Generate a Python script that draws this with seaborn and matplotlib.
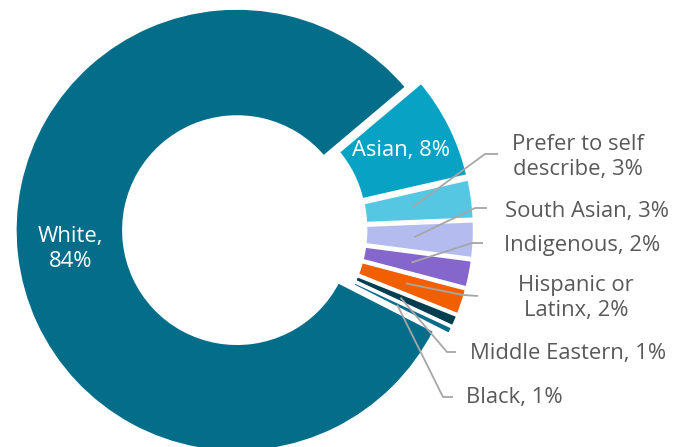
import numpy as np
import matplotlib
matplotlib.use("Agg")
import matplotlib.pyplot as plt
import seaborn as sns

# ---- data ----
categories = ["White", "Asian", "Prefer to self describe", "South Asian",
              "Indigenous", "Hispanic or Latinx", "Middle Eastern", "Black"]
shares = [83.8, 7.8, 3.0, 2.8, 2.1, 2.0, 0.9, 0.6]
label_texts = ["White,\n84%", "Asian, 8%", "Prefer to self\ndescribe, 3%",
               "South Asian, 3%", "Indigenous, 2%", "Hispanic or\nLatinx, 2%",
               "Middle Eastern, 1%", "Black, 1%"]
colors = ["#046E8A", "#08A2C4", "#55C7E3", "#B4BCEF",
          "#8566CC", "#F25F00", "#023E50", "#0A6C88"]

# ---- style / layout ----
sns.set_theme(style="white")
plt.rcParams["font.family"] = ["Open Sans", "DejaVu Sans"]

W, H = 690, 447
R = 222.0              # outer radius in pixels
CX, CY = 242.5, 229.5  # true pie centre in pixels

def px(x, y):
    return ((x - CX) / R, (CY - y) / R)

explode = [0.025, 0.045, 0.045, 0.045, 0.045, 0.045, 0.045, 0.045]
FS = 15.8

fig = plt.figure(figsize=(W / 100, H / 100), dpi=100)
ax = fig.add_axes([0, 0, 1, 1])

wedges, _ = ax.pie(shares, colors=colors, explode=explode, startangle=-27,
                   counterclock=False,
                   wedgeprops=dict(width=0.49, edgecolor="white", linewidth=2.4))

ax.set_xlim(-CX / R, (W - CX) / R)
ax.set_ylim(-(H - CY) / R, CY / R)
ax.set_aspect("auto")
ax.axis("off")

def mid_point(w, r):
    ang = np.deg2rad((w.theta1 + w.theta2) / 2)
    cx, cy = w.center
    return cx + r * np.cos(ang), cy + r * np.sin(ang)

# inside labels
for i in (0, 1):
    x, y = mid_point(wedges[i], 0.755)
    ax.text(x, y, label_texts[i], color="white", fontsize=FS,
            ha="center", va="center", linespacing=1.25)

# outside labels with leader lines (layout in pixels)
outside = {
    2: ((485, 154), (498, 154), (578, 157)),
    3: ((475, 208), (487, 208), (587, 212)),
    4: ((472, 243), (483, 243), (582, 246)),
    5: ((463, 295), (478, 296), (576, 298)),
    6: ((447, 352), (456, 352), (568, 353)),
    7: ((443, 397), (453, 397), (514, 397)),
}
for i, (elbow, end, tpos) in outside.items():
    sx, sy = mid_point(wedges[i], 0.73)
    ex, ey = px(*elbow)
    fx, fy = px(*end)
    ax.plot([sx, ex, fx], [sy, ey, fy], color="#A6A6A6", lw=1.3,
            solid_capstyle="butt", zorder=5)
    tx, ty = px(*tpos)
    ax.text(tx, ty, label_texts[i], color="#595959", fontsize=FS,
            ha="center", va="center", linespacing=1.25)

fig.savefig("out.png", dpi=100)
